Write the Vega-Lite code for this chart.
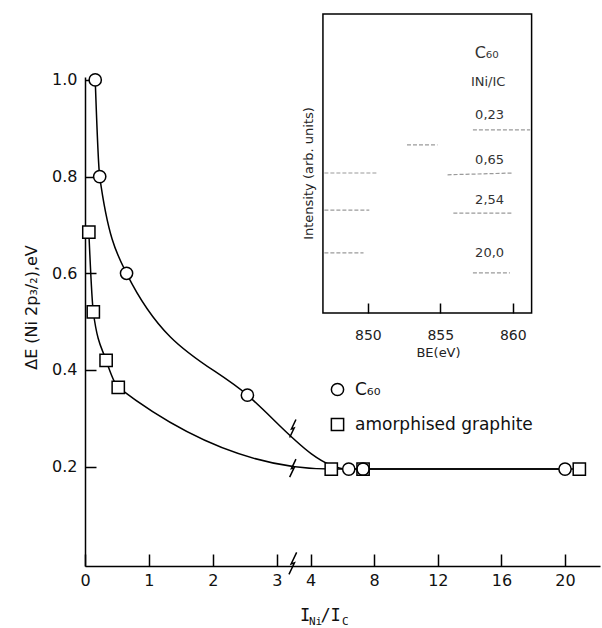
{
  "$schema": "https://vega.github.io/schema/vega-lite/v6.json",
  "width": 515,
  "height": 489,
  "autosize": {"type": "none"},
  "padding": {"left": 85, "top": 77, "right": 2, "bottom": 62},
  "background": "white",
  "config": {"view": {"stroke": null}, "axis": {"grid": false}, "font": "DejaVu Sans"},
  "datasets": {
    "main": [
      {"series": "C₆₀", "x": 0.16, "y": 1.0},
      {"series": "C₆₀", "x": 0.23, "y": 0.8},
      {"series": "C₆₀", "x": 0.65, "y": 0.6},
      {"series": "C₆₀", "x": 2.54, "y": 0.348},
      {"series": "C₆₀", "x": 6.4, "y": 0.195},
      {"series": "C₆₀", "x": 7.3, "y": 0.195},
      {"series": "C₆₀", "x": 20.0, "y": 0.195},
      {"series": "amorphised graphite", "x": 0.06, "y": 0.685},
      {"series": "amorphised graphite", "x": 0.13, "y": 0.52},
      {"series": "amorphised graphite", "x": 0.33, "y": 0.42},
      {"series": "amorphised graphite", "x": 0.52, "y": 0.364},
      {"series": "amorphised graphite", "x": 5.3, "y": 0.195},
      {"series": "amorphised graphite", "x": 7.3, "y": 0.195},
      {"series": "amorphised graphite", "x": 20.9, "y": 0.195}
    ],
    "breaks": [
      {"kind": "axis", "x": 3.25, "y": 0.0},
      {"kind": "curve", "x": 3.25, "y": 0.279},
      {"kind": "curve", "x": 3.25, "y": 0.197}
    ],
    "box": [{"be": 846.9, "be2": 861.3, "int": 0, "int2": 100}],
    "spectra": [
      {"seg": "a1", "be": 852.7, "int": 56.2},
      {"seg": "a1", "be": 854.8, "int": 56.2},
      {"seg": "a2", "be": 857.25, "int": 61.2},
      {"seg": "a2", "be": 861.2, "int": 61.2},
      {"seg": "b1", "be": 847.0, "int": 46.8},
      {"seg": "b1", "be": 850.6, "int": 46.8},
      {"seg": "b2", "be": 855.5, "int": 46.2},
      {"seg": "b2", "be": 860.0, "int": 46.8},
      {"seg": "c1", "be": 847.0, "int": 34.4},
      {"seg": "c1", "be": 850.1, "int": 34.4},
      {"seg": "c2", "be": 855.9, "int": 33.4},
      {"seg": "c2", "be": 860.0, "int": 33.4},
      {"seg": "d1", "be": 847.0, "int": 20.1},
      {"seg": "d1", "be": 849.7, "int": 20.1},
      {"seg": "d2", "be": 857.25, "int": 13.4},
      {"seg": "d2", "be": 859.8, "int": 13.4}
    ],
    "insetlabels": [
      {"role": "sample", "label": "C₆₀", "be": 858.2, "int": 87.0},
      {"role": "header", "label": "INi/IC", "be": 858.3, "int": 77.3},
      {"role": "value", "label": "0,23", "be": 858.4, "int": 66.2},
      {"role": "value", "label": "0,65", "be": 858.4, "int": 51.2},
      {"role": "value", "label": "2,54", "be": 858.4, "int": 37.8},
      {"role": "value", "label": "20,0", "be": 858.4, "int": 20.1}
    ]
  },
  "title": {
    "text": "I\u00a0/I\u00a0\u200b",
    "subtitle": "\u200b\u00a0Ni\u00a0\u00a0\u00a0C",
    "orient": "bottom",
    "anchor": "middle",
    "font": "DejaVu Sans Mono",
    "fontSize": 17,
    "fontWeight": "normal",
    "color": "#111",
    "subtitleFont": "DejaVu Sans Mono",
    "subtitleFontSize": 11,
    "subtitleColor": "#111",
    "subtitlePadding": -9,
    "offset": 20,
    "dx": -17
  },
  "layer": [
    {
      "layer": [
        {
          "data": {"name": "main"},
          "mark": {"type": "line", "interpolate": "monotone", "color": "black", "strokeWidth": 1.5},
          "encoding": {
            "x": {
              "field": "x", "type": "quantitative",
              "scale": {"domain": [0, 3.3, 3.9, 22.2], "range": [0, 211, 224, 515], "nice": false, "zero": false},
              "axis": {
                "values": [0, 1, 2, 3, 4, 8, 12, 16, 20], "format": "d", "title": null,
                "labelFontSize": 16, "labelFont": "DejaVu Sans", "labelColor": "#111", "labelPadding": 18, "labelFlush": false,
                "tickSize": -12, "tickWidth": 1.5, "tickColor": "black",
                "domainColor": "black", "domainWidth": 1.5, "grid": false
              }
            },
            "y": {
              "field": "y", "type": "quantitative",
              "scale": {"domain": [-0.0054, 1.006], "nice": false, "zero": false},
              "axis": {
                "values": [0.2, 0.4, 0.6, 0.8, 1.0], "format": ".1f",
                "title": "ΔE (Ni 2p₃/₂),eV", "titleFont": "DejaVu Sans", "titleFontSize": 16, "titleFontWeight": "normal",
                "titleColor": "#111", "titlePadding": 12, "titleY": 230,
                "labelFontSize": 16, "labelFont": "DejaVu Sans", "labelColor": "#111", "labelPadding": 19,
                "tickSize": -11, "tickWidth": 1.5, "tickColor": "black",
                "domainColor": "black", "domainWidth": 1.5, "grid": false
              }
            },
            "detail": {"field": "series"}
          }
        },
        {
          "data": {"name": "breaks"},
          "transform": [{"filter": "datum.kind == 'axis'"}],
          "mark": {"type": "point", "shape": "M0.35,-1L-0.15,0.05L0.15,-0.05L-0.35,1", "filled": false, "color": "black", "strokeWidth": 1.5, "opacity": 1, "size": 484},
          "encoding": {
            "x": {"field": "x", "type": "quantitative"},
            "y": {"field": "y", "type": "quantitative"}
          }
        },
        {
          "data": {"name": "breaks"},
          "transform": [{"filter": "datum.kind == 'curve'"}],
          "mark": {"type": "point", "shape": "M0.35,-1L-0.15,0.05L0.15,-0.05L-0.35,1", "filled": false, "color": "black", "strokeWidth": 1.5, "opacity": 1, "size": 324},
          "encoding": {
            "x": {"field": "x", "type": "quantitative"},
            "y": {"field": "y", "type": "quantitative"}
          }
        },
        {
          "data": {"name": "main"},
          "mark": {"type": "point", "filled": true, "color": "white", "size": 150, "opacity": 1},
          "encoding": {
            "x": {"field": "x", "type": "quantitative"},
            "y": {"field": "y", "type": "quantitative"},
            "shape": {
              "field": "series", "type": "nominal",
              "scale": {"domain": ["C₆₀", "amorphised graphite"], "range": ["circle", "square"]},
              "legend": null
            }
          }
        },
        {
          "data": {"name": "main"},
          "mark": {"type": "point", "filled": false, "color": "black", "strokeWidth": 1.5, "size": 150, "opacity": 1},
          "encoding": {
            "x": {"field": "x", "type": "quantitative"},
            "y": {"field": "y", "type": "quantitative"},
            "shape": {
              "field": "series", "type": "nominal",
              "scale": {"domain": ["C₆₀", "amorphised graphite"], "range": ["circle", "square"]},
              "legend": {
                "title": null, "orient": "none", "legendX": 244, "legendY": 304,
                "labelFontSize": 17, "labelFont": "DejaVu Sans", "labelColor": "#111", "labelLimit": 400,
                "symbolSize": 150, "symbolStrokeWidth": 1.5, "symbolStrokeColor": "black",
                "rowPadding": 16, "labelOffset": 9
              }
            }
          }
        }
      ],
      "resolve": {"scale": {"shape": "independent"}, "legend": {"shape": "independent"}}
    },
    {
      "layer": [
        {
          "data": {"name": "box"},
          "mark": {"type": "rect", "fill": "white", "fillOpacity": 0, "stroke": "black", "strokeWidth": 1.5},
          "encoding": {
            "x": {
              "field": "be", "type": "quantitative",
              "scale": {"domain": [830.48, 866.02], "nice": false, "zero": false},
              "axis": {
                "orient": "bottom", "offset": -253, "values": [850, 855, 860], "format": "d",
                "domain": false, "tickSize": -10, "tickWidth": 1.5, "tickColor": "black",
                "labelFontSize": 14, "labelFont": "DejaVu Sans", "labelColor": "#222", "labelPadding": 25,
                "title": "BE(eV)", "titleFontSize": 13, "titleFont": "DejaVu Sans", "titleFontWeight": "normal", "titleColor": "#222",
                "titlePadding": 4, "titleX": 353, "grid": false
              }
            },
            "x2": {"field": "be2"},
            "y": {
              "field": "int", "type": "quantitative",
              "scale": {"domain": [-84.6, 78.9], "nice": false, "zero": false},
              "axis": {
                "orient": "left", "offset": -238, "domain": false, "ticks": false, "labels": false,
                "title": "Intensity (arb. units)", "titleFontSize": 13, "titleFont": "DejaVu Sans", "titleFontWeight": "normal",
                "titleColor": "#222", "titleX": -15, "titleY": 96, "titleAngle": 270, "titleBaseline": "middle", "titleAlign": "center",
                "grid": false
              }
            },
            "y2": {"field": "int2"}
          }
        },
        {
          "data": {"name": "spectra"},
          "mark": {"type": "line", "color": "#9a9a9a", "strokeWidth": 1.2, "strokeDash": [4, 2]},
          "encoding": {
            "x": {"field": "be", "type": "quantitative"},
            "y": {"field": "int", "type": "quantitative"},
            "detail": {"field": "seg"}
          }
        },
        {
          "data": {"name": "insetlabels"},
          "transform": [{"filter": "datum.role == 'sample'"}],
          "mark": {"type": "text", "fontSize": 16, "color": "#333", "font": "DejaVu Sans"},
          "encoding": {
            "x": {"field": "be", "type": "quantitative"},
            "y": {"field": "int", "type": "quantitative"},
            "text": {"field": "label"}
          }
        },
        {
          "data": {"name": "insetlabels"},
          "transform": [{"filter": "datum.role != 'sample'"}],
          "mark": {"type": "text", "fontSize": 13, "color": "#333", "font": "DejaVu Sans"},
          "encoding": {
            "x": {"field": "be", "type": "quantitative"},
            "y": {"field": "int", "type": "quantitative"},
            "text": {"field": "label"}
          }
        }
      ]
    }
  ],
  "resolve": {
    "scale": {"x": "independent", "y": "independent"},
    "axis": {"x": "independent", "y": "independent"}
  }
}
